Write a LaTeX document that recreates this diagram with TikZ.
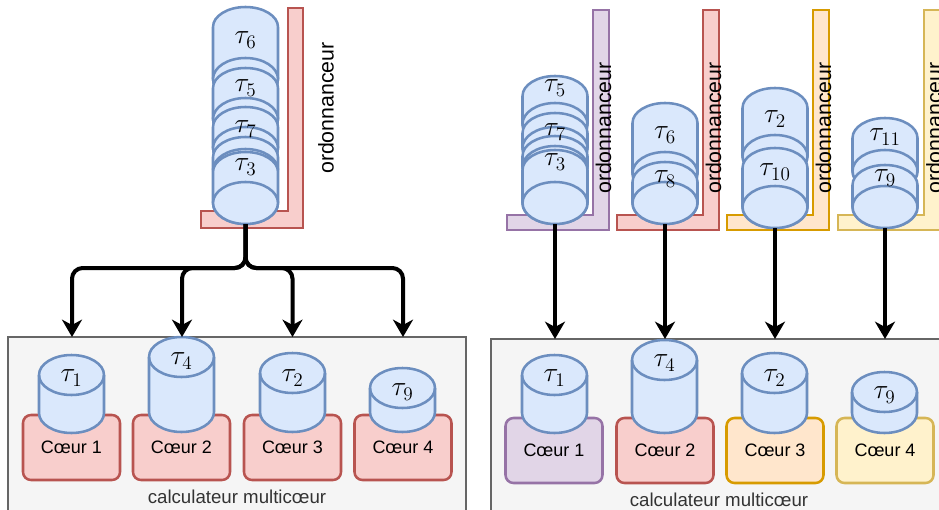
\documentclass[tikz,border=0pt]{standalone}
\usepackage{fontspec}
\setmainfont{Liberation Sans}
\usetikzlibrary{arrows.meta}
\definecolor{cylF}{HTML}{DAE8FC}
\definecolor{cylD}{HTML}{6C8EBF}
\definecolor{redF}{HTML}{F8CECC}
\definecolor{redD}{HTML}{B85450}
\definecolor{purF}{HTML}{E1D5E7}
\definecolor{purD}{HTML}{9673A6}
\definecolor{oraF}{HTML}{FFE6CC}
\definecolor{oraD}{HTML}{D79B00}
\definecolor{yelF}{HTML}{FFF2CC}
\definecolor{yelD}{HTML}{D6B656}
\definecolor{grayF}{HTML}{F5F5F5}
\definecolor{grayD}{HTML}{666666}
\definecolor{txtG}{HTML}{333333}
\tikzset{
  cyl/.style={fill=cylF, draw=cylD, line width=1.9pt},
  tau/.style={font=\fontsize{22}{22}\selectfont, inner sep=0pt},
  lsh/.style={line width=1.1pt},
  ord/.style={font=\fontsize{16}{16}\selectfont, rotate=90, inner sep=0pt},
  core/.style={rounded corners=6pt, line width=1.9pt, minimum width=72.75pt, minimum height=48.75pt, font=\fontsize{13.5}{14}\selectfont, inner sep=0pt},
  arr/.style={line width=3pt, -{Stealth[length=13pt,width=15pt,inset=4pt]}, rounded corners=8pt},
  calc/.style={font=\fontsize{14}{14}\selectfont, text=txtG, inner sep=0pt},
  boxsty/.style={fill=grayF, draw=grayD, line width=1.9pt},
}
\newcommand{\stackpiece}[3]{%
  \path[cyl] (#1-32.5,#2+20) arc[start angle=180,end angle=360,x radius=32.5,y radius=20] -- (#1+32.5,#3-21) arc[start angle=0,end angle=180,x radius=32.5,y radius=21] -- cycle;
  \path[cyl] (#1,#3-21) ellipse[x radius=32.5, y radius=21];
}
\newcommand{\corecyl}[3]{%
  \path[cyl] (#1-32.5,#2+20) arc[start angle=180,end angle=360,x radius=32.5,y radius=20] -- (#1+32.5,#3-20) arc[start angle=0,end angle=180,x radius=32.5,y radius=20] -- cycle;
  \draw[cyl, fill=none] (#1-32.5,#2+20) arc[start angle=180,end angle=0,x radius=32.5,y radius=20];
}
\newcommand{\lshape}[3]{% x0, fill, draw
  \path[lsh, fill=#2, draw=#3] (#1,215) -- (#1+86,215) -- (#1+86,10) -- (#1+102,10) -- (#1+102,230) -- (#1,230) -- cycle;
}
\begin{document}
\begin{tikzpicture}[x=0.75pt, y=-0.75pt]
\useasboundingbox (0,0) rectangle (939,510);
% ---------- left scheduler ----------
\path[lsh, fill=redF, draw=redD] (201,211) -- (288,211) -- (288,8) -- (303,8) -- (303,228) -- (201,228) -- cycle;
\node[ord] (lord) at (326,108) {ordonnanceur};
\stackpiece{245.5}{7}{100}
\stackpiece{245.5}{68}{140}
\stackpiece{245.5}{107}{169}
\stackpiece{245.5}{137}{191}
\stackpiece{245.5}{152}{224}
\node[tau] (ls6) at (245.5,40) {$\tau_6$};
\node[tau] (ls5) at (245.5,88) {$\tau_5$};
\node[tau] (ls7) at (245.5,129) {$\tau_7$};
\node[tau] (ls3) at (245.5,167) {$\tau_3$};
\coordinate (lsrc) at (245.5,224);
% ---------- right schedulers ----------
\lshape{507}{purF}{purD}
\lshape{617}{redF}{redD}
\lshape{727}{oraF}{oraD}
\lshape{838}{yelF}{yelD}
\node[ord] (rord1) at (603.5,128) {ordonnanceur};
\node[ord] (rord2) at (713.5,128) {ordonnanceur};
\node[ord] (rord3) at (823.5,128) {ordonnanceur};
\node[ord] (rord4) at (934,128) {ordonnanceur};
% stack 1
\stackpiece{555}{76}{145}
\stackpiece{555}{113}{169}
\stackpiece{555}{136}{188}
\stackpiece{555}{150}{224}
\node[tau] (r1s5) at (555,88) {$\tau_5$};
\node[tau] (r1s7) at (555,132) {$\tau_7$};
\node[tau] (r1s3) at (555,162) {$\tau_3$};
% stack 2
\stackpiece{665}{103}{194}
\stackpiece{665}{162}{224}
\node[tau] (r2s6) at (665,135) {$\tau_6$};
\node[tau] (r2s8) at (665,179) {$\tau_8$};
% stack 3
\stackpiece{775}{88}{177}
\stackpiece{775}{148}{228}
\node[tau] (r3s2) at (775,119) {$\tau_2$};
\node[tau] (r3s10) at (775,172) {$\tau_{10}$};
% stack 4
\stackpiece{885}{118}{192}
\stackpiece{885}{165}{228}
\node[tau] (r4s11) at (885,137) {$\tau_{11}$};
\node[tau] (r4s9) at (885,178) {$\tau_9$};
\coordinate (rsrc1) at (555,224);
\coordinate (rsrc2) at (665,224);
\coordinate (rsrc3) at (775,228);
\coordinate (rsrc4) at (885,228);
% ---------- computers ----------
\path[boxsty] (8,337) rectangle (466,530);
\path[boxsty] (491,339) rectangle (950,530);
\node[calc] (lcalc) at (237,497) {calculateur multicœur};
\node[calc] (rcalc) at (719,500) {calculateur multicœur};
\coordinate (lt1) at (72,337);
\coordinate (lt2) at (182,337);
\coordinate (lt3) at (292.5,337);
\coordinate (lt4) at (403,337);
\coordinate (rt1) at (555,339);
\coordinate (rt2) at (665,339);
\coordinate (rt3) at (775,339);
\coordinate (rt4) at (885,339);
% cores left
\node[core, fill=redF, draw=redD] (lc1) at (71.5,447.5) {Cœur 1};
\node[core, fill=redF, draw=redD] (lc2) at (181.5,447.5) {Cœur 2};
\node[core, fill=redF, draw=redD] (lc3) at (292.5,447.5) {Cœur 3};
\node[core, fill=redF, draw=redD] (lc4) at (403,447.5) {Cœur 4};
% cores right
\node[core, fill=purF, draw=purD] (rc1) at (554,450.5) {Cœur 1};
\node[core, fill=redF, draw=redD] (rc2) at (665,450.5) {Cœur 2};
\node[core, fill=oraF, draw=oraD] (rc3) at (775,450.5) {Cœur 3};
\node[core, fill=yelF, draw=yelD] (rc4) at (885,450.5) {Cœur 4};
% running tasks left
\corecyl{71.5}{355}{433}
\corecyl{181.5}{337}{432}
\corecyl{292.5}{353}{432}
\corecyl{402.5}{368}{432}
\node[tau] (lr1) at (71.5,378) {$\tau_1$};
\node[tau] (lr4) at (181.5,361) {$\tau_4$};
\node[tau] (lr2) at (292.5,378) {$\tau_2$};
\node[tau] (lr9) at (402.5,392) {$\tau_9$};
% running tasks right
\corecyl{554.5}{355}{433}
\corecyl{664.5}{340}{433}
\corecyl{774.5}{353}{433}
\corecyl{884.5}{372}{433}
\node[tau] (rr1) at (554.5,378) {$\tau_1$};
\node[tau] (rr4) at (664.5,363) {$\tau_4$};
\node[tau] (rr2) at (774.5,378) {$\tau_2$};
\node[tau] (rr9) at (884.5,395) {$\tau_9$};
% ---------- connectors ----------
\draw[arr] (lsrc) -- (245.5,268) -| (lt1);
\draw[arr] (lsrc) -- (245.5,268) -| (lt2);
\draw[arr] (lsrc) -- (245.5,268) -| (lt3);
\draw[arr] (lsrc) -- (245.5,268) -| (lt4);
\draw[arr] (rsrc1) -- (rt1);
\draw[arr] (rsrc2) -- (rt2);
\draw[arr] (rsrc3) -- (rt3);
\draw[arr] (rsrc4) -- (rt4);
\end{tikzpicture}
\end{document}
